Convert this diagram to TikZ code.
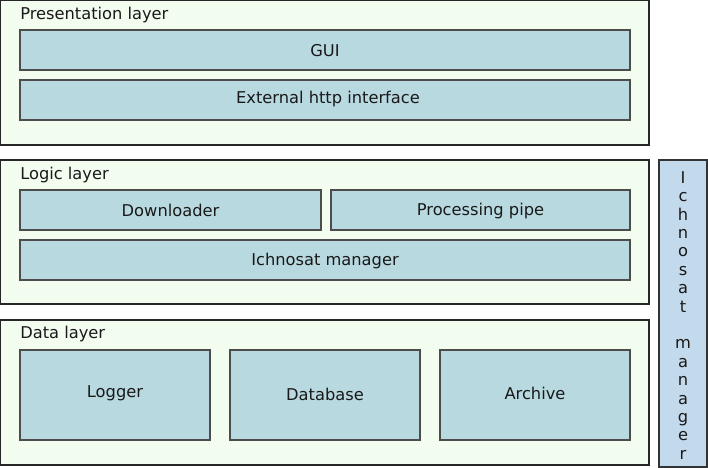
\documentclass[tikz,border=0pt]{standalone}
\usepackage{fontspec}
\setmainfont{DejaVu Sans}
\begin{document}
\begin{tikzpicture}[x=0.75pt,y=-0.75pt,
  layerbox/.style={draw=black!85, fill=layerfill, line width=0.9pt},
  compbox/.style={draw=black!70, fill=compfill, line width=1pt},
  sidebox/.style={draw=black!80, fill=sidefill, line width=1pt},
  txt/.style={font=\fontsize{12.2}{14}\selectfont, text=black!90},
  lbl/.style={txt, anchor=west, inner sep=0pt}]
\definecolor{layerfill}{HTML}{F2FDF0}
\definecolor{compfill}{HTML}{B9D9E1}
\definecolor{sidefill}{HTML}{C3D9EC}
\useasboundingbox (0,0) rectangle (708,468);
% layers
\path[layerbox] (0.5,0.5) rectangle (649,145);
\path[layerbox] (0.5,160) rectangle (649,304);
\path[layerbox] (0.5,320) rectangle (649,465);
\node[lbl] (pl) at (20,15.5) {Presentation layer};
\node[lbl] (ll) at (20,175.5) {Logic layer};
\node[lbl] (dl) at (20,334.5) {Data layer};
% presentation
\path[compbox] (20,30) rectangle (630,70);
\node[txt] (gui) at (325,50.5) {GUI};
\path[compbox] (20,80) rectangle (630,120);
\node[txt] (ext) at (328,99.5) {External http interface};
% logic
\path[compbox] (20,190) rectangle (321,230);
\node[txt] (down) at (170.5,210.5) {Downloader};
\path[compbox] (331,190) rectangle (630,230);
\node[txt] (proc) at (480.5,211.5) {Processing pipe};
\path[compbox] (20,240) rectangle (630,280);
\node[txt] (man) at (325,261.5) {Ichnosat manager};
% data
\path[compbox] (20,350) rectangle (210,440);
\node[txt] (log) at (115,393.5) {Logger};
\path[compbox] (230,350) rectangle (420,440);
\node[txt] (db) at (325,394.5) {Database};
\path[compbox] (440,350) rectangle (630,440);
\node[txt] (arc) at (535,393.5) {Archive};
% side
\path[sidebox] (659,160) rectangle (707,467);
\foreach \ch [count=\i from 0] in {I,c,h,n,o,s,a,t,{},m,a,n,a,g,e,r}{
  \node[txt, inner sep=0pt] (s\i) at (683,{179.5+18.4*\i}) {\strut\ch};
}
\end{tikzpicture}
\end{document}
